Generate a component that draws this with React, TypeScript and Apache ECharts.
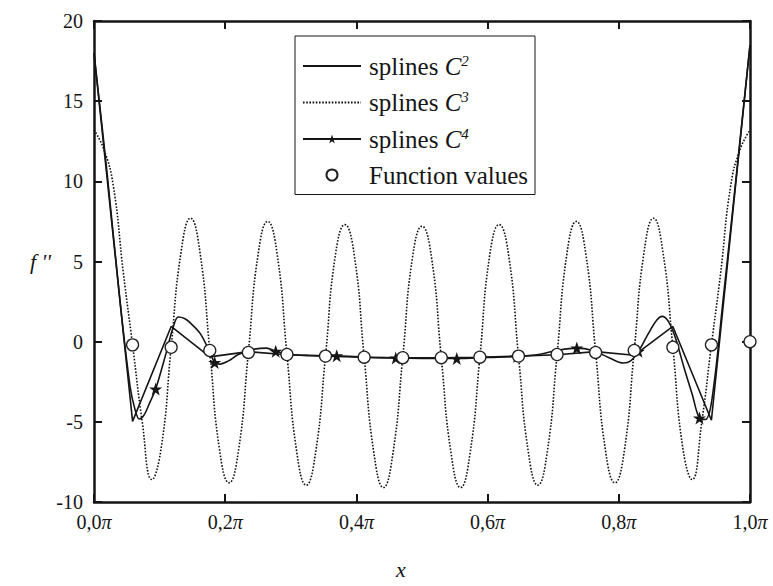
import React, { useEffect, useRef } from 'react';
import * as echarts from 'echarts';

// Axis ticks (x in units of π)
const xTicks = [0, 0.2, 0.4, 0.6, 0.8, 1.0];
const yTicks = [-10, -5, 0, 5, 10, 15, 20];

// Interpolation nodes (x / π)
const nodeX = [0, 0.0588, 0.1176, 0.1765, 0.2353, 0.2941, 0.3529, 0.4118, 0.4706, 0.5294, 0.5882, 0.6471, 0.7059, 0.7647, 0.8235, 0.8824, 0.9412, 1.0];

// Function values at nodes 1..17
const functionValues = [-0.2, -0.35, -0.55, -0.67, -0.8, -0.9, -0.97, -1.0, -1.0, -0.97, -0.9, -0.8, -0.67, -0.55, -0.35, -0.2, 0];

// C2 splines: values at nodes (piecewise linear)
const c2Values = [18.0, -4.97, 0.95, -0.95, -0.62, -0.82, -0.9, -0.97, -1.0, -1.0, -0.97, -0.9, -0.82, -0.62, -0.85, 0.95, -4.9, 18.5];

// C3 splines (dotted)
const c3X = [0, 0.015, 0.0295, 0.0447,
  0.0588, 0.0735, 0.0882, 0.1029, 0.1176, 0.1324, 0.1471, 0.1618, 0.1765, 0.1912, 0.2059, 0.2206,
  0.2353, 0.25, 0.2647, 0.2794, 0.2941, 0.3088, 0.3235, 0.3382, 0.3529, 0.3676, 0.3824, 0.3971,
  0.4118, 0.4265, 0.4412, 0.4559, 0.4706, 0.4853, 0.5, 0.5147, 0.5294, 0.5441, 0.5588, 0.5735,
  0.5882, 0.6029, 0.6176, 0.6324, 0.6471, 0.6618, 0.6765, 0.6912, 0.7059, 0.7206, 0.7353, 0.75,
  0.7647, 0.7794, 0.7941, 0.8088, 0.8235, 0.8382, 0.8529, 0.8676, 0.8824, 0.8971, 0.9118, 0.9265,
  0.9412, 0.9553, 0.9705, 0.985, 1.0];
const c3Y = [13.2, 12.0, 9.7, 4.3,
  -0.2, -5.0, -8.6, -6.5, -0.35, 5.5, 7.7, 5.5, -0.55, -6.7, -8.8, -6.7,
  -0.67, 5.4, 7.5, 5.4, -0.8, -6.8, -8.95, -6.8, -0.9, 5.3, 7.3, 5.3,
  -0.97, -6.9, -9.1, -6.9, -1.0, 5.2, 7.2, 5.2, -1.0, -6.9, -9.1, -6.9,
  -0.97, 5.3, 7.3, 5.3, -0.9, -6.8, -8.95, -6.8, -0.8, 5.4, 7.5, 5.4,
  -0.67, -6.7, -8.8, -6.7, -0.55, 5.5, 7.7, 5.5, -0.35, -6.5, -8.6, -5.0,
  -0.2, 4.3, 9.7, 12.0, 13.2];

// C4 splines (solid with stars)
const c4X = [0, 0.02, 0.04, 0.055, 0.063, 0.069, 0.076, 0.085, 0.094, 0.11, 0.12, 0.1285, 0.138, 0.146, 0.162, 0.177, 0.184, 0.192, 0.205, 0.22, 0.24, 0.263, 0.277, 0.3, 0.33, 0.37, 0.42, 0.46, 0.5, 0.553, 0.6, 0.645, 0.68, 0.705, 0.736, 0.76, 0.785, 0.807, 0.818, 0.83, 0.845, 0.858, 0.866, 0.875, 0.885, 0.9, 0.912, 0.923, 0.932, 0.942, 0.96, 0.98, 1.0];
const c4Y = [18.0, 10.5, 2.4, -2.8, -4.3, -4.82, -4.6, -3.8, -2.95, -0.7, 0.8, 1.54, 1.45, 1.2, 0.5, -0.7, -1.3, -1.4, -1.2, -0.8, -0.5, -0.4, -0.6, -0.8, -0.86, -0.88, -0.98, -1.02, -1.04, -1.05, -0.98, -0.92, -0.78, -0.55, -0.4, -0.55, -1.0, -1.33, -1.2, -0.6, 0.5, 1.35, 1.58, 1.3, 0.4, -1.7, -3.3, -4.76, -4.85, -3.6, 3.0, 10.7, 18.5];
const c4StarX = [0.094, 0.184, 0.277, 0.37, 0.46, 0.553, 0.645, 0.736, 0.83, 0.923];

const STAR = 'path://M50,2 L61.8,36.2 L97.6,36.2 L68.6,57.4 L79.6,91.6 L50,70.4 L20.4,91.6 L31.4,57.4 L2.4,36.2 L38.2,36.2 Z';
const FONT = "'Liberation Serif', 'DejaVu Serif', serif";
const INK = '#151515';

export default function App() {
  const ref = useRef<HTMLDivElement>(null);
  useEffect(() => {
    if (!ref.current) return;
    const chart = echarts.init(ref.current, undefined, { renderer: 'svg' });
    const labelRich = {
      n: { fontFamily: FONT, fontSize: 20, color: INK },
      p: { fontFamily: FONT, fontSize: 20, color: INK, fontStyle: 'italic' },
    };
    const axisBase = {
      type: 'value',
      axisLine: { show: true, onZero: false, lineStyle: { color: INK, width: 2.5 } },
      axisTick: { show: true, inside: true, length: 8, lineStyle: { color: INK, width: 2 } },
      splitLine: { show: false },
    };
    const starSet = new Set(c4StarX);
    chart.setOption({
      animation: false,
      textStyle: { fontFamily: FONT },
      grid: { left: 94, right: 23, top: 21, bottom: 84, containLabel: false },
      legend: {
        orient: 'vertical',
        left: 295,
        top: 36,
        itemWidth: 58,
        itemHeight: 11,
        itemGap: 11,
        padding: [17, 7, 7, 7],
        borderColor: INK,
        borderWidth: 1,
        data: [
          { name: 'splines C2', itemStyle: { opacity: 0 } },
          { name: 'splines C3', itemStyle: { opacity: 0 } },
          { name: 'splines C4' },
          { name: 'Function values' },
        ],
        formatter: (name: string) =>
          name === 'Function values'
            ? '{n|Function values}'
            : `{n|splines }{c|C}{s|${name.slice(-1)}}`,
        textStyle: {
          fontFamily: FONT,
          fontSize: 25,
          color: INK,
          padding: [0, 0, 0, 3],
          rich: {
            n: { fontFamily: FONT, fontSize: 25, color: INK, lineHeight: 26 },
            c: { fontFamily: FONT, fontSize: 25, color: INK, fontStyle: 'italic', lineHeight: 26 },
            s: { fontFamily: FONT, fontSize: 15, color: INK, fontStyle: 'italic', verticalAlign: 'top', lineHeight: 26, padding: [0, 0, 8, 0] },
          },
        },
      },
      xAxis: [
        {
          ...axisBase,
          position: 'bottom',
          min: xTicks[0],
          max: xTicks[xTicks.length - 1],
          interval: 0.2,
          axisLabel: {
            margin: 10,
            formatter: (v: number) => `{n|${v.toFixed(1).replace('.', ',')}}{p|π}`,
            rich: labelRich,
          },
        },
        {
          ...axisBase,
          position: 'top',
          min: xTicks[0],
          max: xTicks[xTicks.length - 1],
          interval: 0.2,
          axisLabel: { show: false },
        },
      ],
      yAxis: [
        {
          ...axisBase,
          position: 'left',
          min: yTicks[0],
          max: yTicks[yTicks.length - 1],
          interval: 5,
          axisLabel: { margin: 11, fontFamily: FONT, fontSize: 20, color: INK },
        },
        {
          ...axisBase,
          position: 'right',
          min: yTicks[0],
          max: yTicks[yTicks.length - 1],
          interval: 5,
          axisLabel: { show: false },
        },
      ],
      series: [
        {
          name: 'splines C2',
          type: 'line',
          xAxisIndex: 0,
          yAxisIndex: 0,
          data: nodeX.map((x, i) => [x, c2Values[i]]),
          symbol: 'none',
          lineStyle: { color: INK, width: 1.6 },
          itemStyle: { color: INK },
          z: 3,
        },
        {
          name: 'splines C3',
          type: 'line',
          xAxisIndex: 0,
          yAxisIndex: 0,
          data: c3X.map((x, i) => [x, c3Y[i]]),
          smooth: 0.5,
          symbol: 'none',
          lineStyle: { color: '#111', width: 1.6, type: [1.6, 1.6] },
          itemStyle: { color: '#111' },
          z: 2,
        },
        {
          name: 'splines C4',
          type: 'line',
          xAxisIndex: 0,
          yAxisIndex: 0,
          smooth: 0.35,
          symbol: STAR,
          symbolSize: 13,
          showSymbol: true,
          data: c4X.map((x, i) => ({
            value: [x, c4Y[i]],
            symbol: starSet.has(x) ? STAR : 'none',
          })),
          lineStyle: { color: INK, width: 1.6 },
          itemStyle: { color: INK },
          z: 4,
        },
        {
          name: 'Function values',
          type: 'scatter',
          xAxisIndex: 0,
          yAxisIndex: 0,
          data: nodeX.slice(1).map((x, i) => [x, functionValues[i]]),
          symbol: 'circle',
          symbolSize: 12,
          itemStyle: { color: '#ffffff', borderColor: '#222', borderWidth: 1.3, opacity: 1 },
          z: 6,
        },
      ],
      graphic: [
        {
          type: 'text',
          left: 30,
          top: 250,
          style: { text: "f ''", fontFamily: FONT, fontSize: 22, fontStyle: 'italic', fill: INK },
        },
        {
          type: 'text',
          left: 396,
          top: 558,
          style: { text: 'x', fontFamily: FONT, fontSize: 22, fontStyle: 'italic', fill: INK },
        },
      ],
    });
    return () => chart.dispose();
  }, []);
  return (
    <div
      ref={ref}
      style={{ position: 'fixed', left: 0, top: 0, width: 773, height: 586, background: '#fff' }}
    />
  );
}
